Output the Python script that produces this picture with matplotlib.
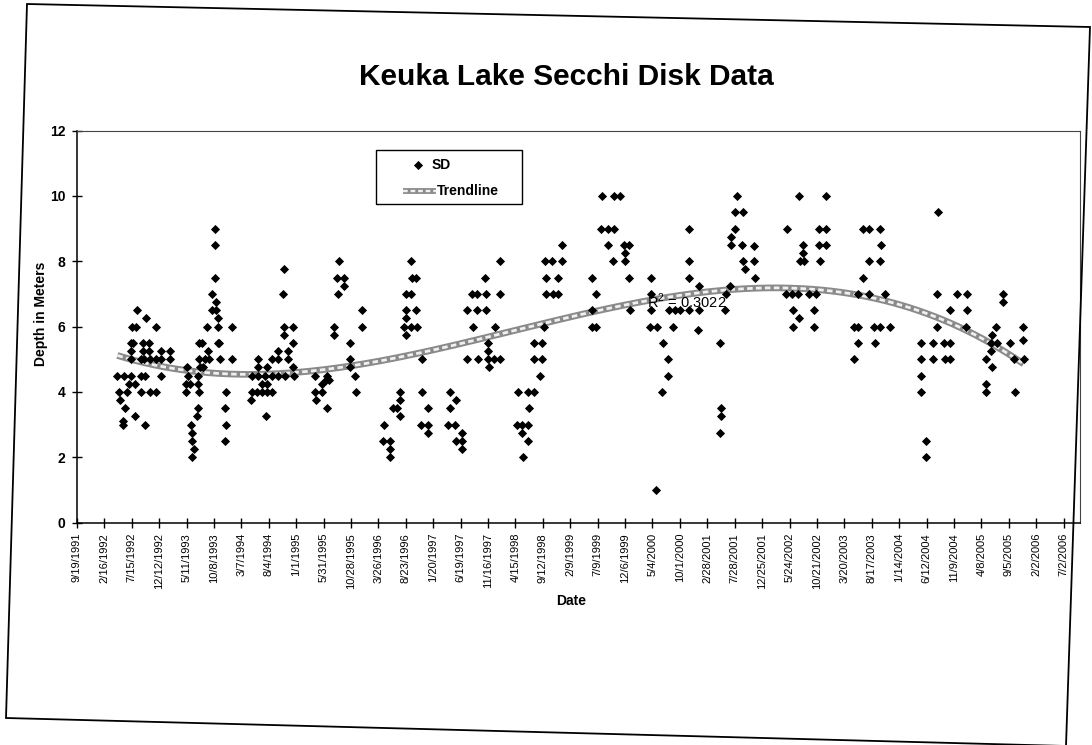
import datetime as dt
import numpy as np
import matplotlib
matplotlib.use("Agg")
import matplotlib.pyplot as plt
import matplotlib.dates as mdates
from matplotlib import font_manager as fm
from matplotlib.patches import Polygon, Rectangle
from matplotlib.lines import Line2D

# ---------------- data ----------------
# sampling time as decimal year, Secchi depth in metres
sd_year = [
    # 1992
    1992.62, 1992.75, 1992.54, 1992.60, 1992.90, 1992.53, 1992.56, 1992.70, 1992.79,
    1992.53, 1992.71, 1992.80, 1992.97, 1993.11, 1992.52, 1992.67, 1992.72, 1992.81,
    1992.90, 1992.97, 1993.11, 1992.32, 1992.42, 1992.52, 1992.67, 1992.73, 1992.97,
    1992.49, 1992.58, 1992.35, 1992.46, 1992.67, 1992.81, 1992.90, 1992.36, 1992.43,
    1992.59, 1992.40, 1992.40, 1992.74,
    # 1993
    1993.78, 1993.78, 1993.78, 1993.74, 1993.79, 1993.74, 1993.79, 1993.82, 1993.66,
    1993.82, 1994.04, 1993.54, 1993.59, 1993.82, 1993.84, 1993.68, 1993.54, 1993.63,
    1993.69, 1993.86, 1994.04, 1993.36, 1993.55, 1993.60, 1993.37, 1993.53, 1993.35,
    1993.40, 1993.52, 1993.34, 1993.54, 1993.94, 1993.52, 1993.93, 1993.51, 1993.42,
    1993.94, 1993.43, 1993.44, 1993.93, 1993.47, 1993.43,
    # 1994
    1994.43, 1994.43, 1994.56, 1994.63, 1994.73, 1994.72, 1994.33, 1994.43, 1994.53,
    1994.63, 1994.73, 1994.83, 1994.96, 1994.49, 1994.56, 1994.33, 1994.41, 1994.49,
    1994.56, 1994.64, 1994.32, 1994.55,
    1994.81, 1994.80, 1994.81, 1994.95, 1994.81, 1994.95, 1994.87, 1994.88, 1994.95,
    # 1995
    1995.61, 1995.72, 1995.72, 1995.62, 1995.56, 1995.57, 1995.80, 1995.80, 1995.28,
    1995.46, 1995.44, 1995.49, 1995.39, 1995.28, 1995.39, 1995.29, 1995.46, 1995.64,
    1995.98, 1995.98, 1995.80, 1995.88, 1995.89,
    # 1996
    1996.32, 1996.30, 1996.41, 1996.41, 1996.41, 1996.55, 1996.56, 1996.45, 1996.51,
    1996.55, 1996.72, 1996.73, 1996.80, 1996.64, 1996.72, 1996.64, 1996.80, 1996.64,
    1996.62, 1996.72, 1996.81, 1996.64, 1996.88, 1996.88, 1996.98, 1996.87, 1996.98,
    1996.98,
    # 1997
    1997.30, 1997.40, 1997.30, 1997.28, 1997.38, 1997.48, 1997.39, 1997.49, 1997.48,
    1997.83, 1997.64, 1997.71, 1997.84, 1997.56, 1997.71, 1997.84, 1997.65, 1997.98,
    1997.88, 1997.88, 1997.56, 1997.73, 1997.88, 1997.96, 1998.06, 1997.89, 1998.05,
    1998.06,
    # 1998
    1998.32, 1998.47, 1998.57, 1998.49, 1998.31, 1998.39, 1998.48, 1998.39, 1998.48,
    1998.40, 1998.57, 1998.68, 1998.57, 1998.68, 1998.66, 1998.72, 1998.73, 1998.84,
    1998.99, 1998.99, 1998.74, 1998.92, 1998.74, 1998.85, 1998.93,
    # 1999
    1999.43, 1999.49, 1999.44, 1999.44, 1999.50, 1999.58, 1999.76, 1999.85, 1999.57,
    1999.68, 1999.76, 1999.68, 1999.91, 1999.99, 1999.75, 1999.92, 1999.92, 1999.99,
    2000.00,
    # 2000
    2000.32, 2000.31, 2000.32, 2000.30, 2000.40, 2000.49, 2000.57, 2000.57, 2000.48,
    2000.39, 2000.59, 2000.67, 2000.75, 2000.65, 2000.89, 2001.03, 2001.02, 2000.89,
    2000.88, 2000.88, 2001.03, 2001.44, 2001.43, 2001.35, 2001.36, 2001.36, 2001.35,
    # 2001
    2001.60, 2001.58, 2001.69, 2001.58, 2001.52, 2001.52, 2001.68, 2001.86, 2001.69,
    2001.86, 2001.73, 2001.87, 2001.50,
    # 2002
    2002.35, 2002.53, 2002.94, 2002.84, 2002.94, 2002.84, 2002.94, 2002.59, 2002.59,
    2002.55, 2002.61, 2002.85, 2002.34, 2002.43, 2002.52, 2002.69, 2002.79, 2002.44,
    2002.53, 2002.76, 2002.44, 2002.76,
    # 2003
    2003.50, 2003.58, 2003.75, 2003.76, 2003.58, 2003.75, 2003.50, 2003.42, 2003.58,
    2003.82, 2003.36, 2003.42, 2003.66, 2003.75, 2003.90, 2003.42, 2003.67, 2003.36,
    # 2004
    2004.61, 2004.60, 2004.90, 2005.05, 2004.80, 2005.05, 2005.04, 2004.60, 2004.36,
    2004.54, 2004.71, 2004.80, 2004.37, 2004.54, 2004.72, 2004.80, 2004.36, 2004.36,
    2004.44, 2004.43,
    # 2005
    2005.59, 2005.59, 2005.49, 2005.42, 2005.41, 2005.50, 2005.41, 2005.34, 2005.42,
    2005.34, 2005.34, 2005.69, 2005.76, 2005.90, 2005.77, 2005.89, 2005.89,
]

sd_depth = [
    # 1992
    6.5, 6.25, 6.0, 6.0, 6.0, 5.5, 5.5, 5.5, 5.5,
    5.25, 5.25, 5.25, 5.25, 5.25, 5.0, 5.0, 5.0, 5.0,
    5.0, 5.0, 5.0, 4.5, 4.5, 4.5, 4.5, 4.5, 4.5,
    4.25, 4.25, 4.0, 4.0, 4.0, 4.0, 4.0, 3.75, 3.5,
    3.25, 3.1, 3.0, 3.0,
    # 1993
    9.0, 8.5, 7.5, 7.0, 6.75, 6.5, 6.5, 6.25, 6.0,
    6.0, 6.0, 5.5, 5.5, 5.5, 5.5, 5.25, 5.0, 5.0,
    5.0, 5.0, 5.0, 4.75, 4.75, 4.75, 4.5, 4.5, 4.25,
    4.25, 4.25, 4.0, 4.0, 4.0, 3.5, 3.5, 3.25, 3.0,
    3.0, 2.75, 2.5, 2.5, 2.25, 2.0,
    # 1994
    5.0, 4.75, 4.75, 5.0, 5.0, 5.25, 4.5, 4.5, 4.5,
    4.5, 4.5, 4.5, 4.5, 4.25, 4.25, 4.0, 4.0, 4.0,
    4.0, 4.0, 3.75, 3.25,
    7.75, 7.0, 6.0, 6.0, 5.75, 5.5, 5.25, 5.0, 4.75,
    # 1995
    7.5, 7.5, 7.25, 7.0, 6.0, 5.75, 5.5, 5.0, 4.5,
    4.5, 4.35, 4.35, 4.25, 4.0, 4.0, 3.75, 3.5, 8.0,
    6.5, 6.0, 4.75, 4.5, 4.0,
    # 1996
    3.0, 2.5, 2.5, 2.25, 2.0, 4.0, 3.75, 3.5, 3.5,
    3.25, 8.0, 7.5, 7.5, 7.0, 7.0, 6.5, 6.5, 6.25,
    6.0, 6.0, 6.0, 5.75, 5.0, 4.0, 3.5, 3.0, 3.0,
    2.75,
    # 1997
    4.0, 3.75, 3.5, 3.0, 3.0, 2.75, 2.5, 2.5, 2.25,
    7.5, 7.0, 7.0, 7.0, 6.5, 6.5, 6.5, 6.0, 6.0,
    5.5, 5.25, 5.0, 5.0, 5.0, 5.0, 5.0, 4.75, 8.0,
    7.0,
    # 1998
    4.0, 4.0, 4.0, 3.5, 3.0, 3.0, 3.0, 2.75, 2.5,
    2.0, 5.5, 5.5, 5.0, 5.0, 4.5, 6.0, 8.0, 8.0,
    8.0, 8.5, 7.5, 7.5, 7.0, 7.0, 7.0,
    # 1999
    7.5, 7.0, 6.5, 6.0, 6.0, 10.0, 10.0, 10.0, 9.0,
    9.0, 9.0, 8.5, 8.5, 8.5, 8.0, 8.25, 8.0, 7.5,
    6.5,
    # 2000
    7.5, 7.0, 6.5, 6.0, 6.0, 5.5, 5.0, 4.5, 4.0,
    1.0, 6.5, 6.5, 6.5, 6.0, 6.5, 6.5, 5.9, 7.5,
    8.0, 9.0, 7.25, 7.0, 6.5, 5.5, 3.5, 3.25, 2.75,
    # 2001
    10.0, 9.5, 9.5, 9.0, 8.75, 8.5, 8.5, 8.45, 8.0,
    8.0, 7.75, 7.5, 7.25,
    # 2002
    9.0, 10.0, 10.0, 9.0, 9.0, 8.5, 8.5, 8.5, 8.25,
    8.0, 8.0, 8.0, 7.0, 7.0, 7.0, 7.0, 7.0, 6.5,
    6.25, 6.5, 6.0, 6.0,
    # 2003
    9.0, 9.0, 9.0, 8.5, 8.0, 8.0, 7.5, 7.0, 7.0,
    7.0, 6.0, 6.0, 6.0, 6.0, 6.0, 5.5, 5.5, 5.0,
    # 2004
    9.5, 7.0, 7.0, 7.0, 6.5, 6.5, 6.0, 6.0, 5.5,
    5.5, 5.5, 5.5, 5.0, 5.0, 5.0, 5.0, 4.5, 4.0,
    2.5, 2.0,
    # 2005
    7.0, 6.75, 6.0, 5.75, 5.5, 5.5, 5.25, 5.0, 4.75,
    4.25, 4.0, 5.5, 5.0, 5.0, 4.0, 6.0, 5.6,
]

x_tick_labels = [
    "9/19/1991", "2/16/1992", "7/15/1992", "12/12/1992", "5/11/1993", "10/8/1993",
    "3/7/1994", "8/4/1994", "1/1/1995", "5/31/1995", "10/28/1995", "3/26/1996",
    "8/23/1996", "1/20/1997", "6/19/1997", "11/16/1997", "4/15/1998", "9/12/1998",
    "2/9/1999", "7/9/1999", "12/6/1999", "5/4/2000", "10/1/2000", "2/28/2001",
    "7/28/2001", "12/25/2001", "5/24/2002", "10/21/2002", "3/20/2003", "8/17/2003",
    "1/14/2004", "6/12/2004", "11/9/2004", "4/8/2005", "9/5/2005", "2/2/2006",
    "7/2/2006",
]
y_ticks = [0, 2, 4, 6, 8, 10, 12]
x_end = "2006-09-30"
trend_order = 3
r2_text = "R$^2$ = 0.3022"
title = "Keuka Lake Secchi Disk Data"

# ---------------- fonts ----------------
names = {f.name for f in fm.fontManager.ttflist}
MAIN = "Liberation Sans" if "Liberation Sans" in names else "DejaVu Sans"
plt.rcParams["font.family"] = [MAIN, "DejaVu Sans"]
plt.rcParams["mathtext.fontset"] = "custom"
plt.rcParams["mathtext.rm"] = MAIN


def yr2num(y):
    year = int(np.floor(y))
    start = dt.datetime(year, 1, 1)
    ndays = (dt.datetime(year + 1, 1, 1) - start).days
    return mdates.date2num(start + dt.timedelta(days=(y - year) * ndays))


W, H = 1092, 745


def fx(x):
    return x / W


def fy(y):
    return 1 - y / H


fig = plt.figure(figsize=(W / 100, H / 100), dpi=100)
fig.patch.set_facecolor("white")

# outer chart-area border (scanned page is slightly skewed)
fig.add_artist(Polygon([(fx(27), fy(4)), (fx(1090), fy(27)), (fx(1066), fy(746)),
                        (fx(6), fy(718))], closed=True, fill=False,
                       edgecolor="black", linewidth=1.3, transform=fig.transFigure))

ax = fig.add_axes([fx(77), fy(522.5), fx(1080) - fx(77), fy(130.5) - fy(522.5)])

xd = np.array([yr2num(v) for v in sd_year])
yd = np.array(sd_depth)

# polynomial trendline fitted to the data (as Excel does)
x0 = xd.min()
span = xd.max() - x0
coef = np.polyfit((xd - x0) / span, yd, trend_order)
xs = np.linspace(xd.min(), xd.max(), 400)
ys = np.polyval(coef, (xs - x0) / span)

ax.plot(xs, ys, color="#8a8a8a", lw=4.8, solid_capstyle="butt", zorder=3)
ax.plot(xs, ys, color="#f0f0f0", lw=2.0, dashes=(2.0, 1.2), zorder=3.1)
ax.plot(xd, yd, linestyle="none", marker="D", ms=3.8, mfc="black", mec="black",
        mew=0.6, zorder=4)

# axes
tick_dates = [mdates.date2num(dt.datetime.strptime(s, "%m/%d/%Y")) for s in x_tick_labels]
ax.set_xlim(tick_dates[0], mdates.date2num(dt.datetime.strptime(x_end, "%Y-%m-%d")))
ax.set_ylim(0, 12)
ax.set_xticks(tick_dates)
ax.set_xticklabels(x_tick_labels, rotation=90, fontsize=8, va="top", ha="center")
ax.set_yticks(y_ticks)
ax.set_yticklabels([str(v) for v in y_ticks], fontsize=10, fontweight="bold")
ax.tick_params(axis="x", direction="inout", length=7, width=1, pad=4)
ax.tick_params(axis="y", direction="inout", length=7, width=1, pad=5)
for s in ("left", "bottom"):
    ax.spines[s].set_linewidth(1.1)
    ax.spines[s].set_color("black")
for s in ("top", "right"):
    ax.spines[s].set_linewidth(0.8)
    ax.spines[s].set_color("#444444")

# texts
fig.text(fx(566), fy(77), title, ha="center", va="center", fontsize=21.5,
         fontweight="bold")
fig.text(fx(571), fy(601), "Date", ha="center", va="center", fontsize=10,
         fontweight="bold")
fig.text(fx(41), fy(314), "Depth in Meters", ha="center", va="center", fontsize=10,
         fontweight="bold", rotation=90)
fig.text(fx(647), fy(301), r2_text, ha="left", va="center", fontsize=10.5, zorder=6)

# legend (Excel style box)
fig.add_artist(Rectangle((fx(376), fy(204)), fx(522) - fx(376), fy(150) - fy(204),
                         facecolor="white", edgecolor="black", linewidth=1.0,
                         transform=fig.transFigure, zorder=5))
fig.add_artist(Line2D([fx(418)], [fy(165)], marker="D", ms=3.8, mfc="black",
                      mec="black", mew=0.6, linestyle="none",
                      transform=fig.transFigure, zorder=6))
fig.text(fx(432), fy(165), "SD", ha="left", va="center", fontsize=10,
         fontweight="bold", zorder=6)
for lw, col, dash in ((4.2, "#8a8a8a", None), (1.7, "#f0f0f0", (2.0, 1.2))):
    ln = Line2D([fx(403), fx(436)], [fy(191), fy(191)], color=col, lw=lw,
                solid_capstyle="butt", transform=fig.transFigure, zorder=6)
    if dash:
        ln.set_dashes(dash)
    fig.add_artist(ln)
fig.text(fx(437), fy(191), "Trendline", ha="left", va="center", fontsize=10,
         fontweight="bold", zorder=6)

fig.savefig("out.png", dpi=100, facecolor="white")
